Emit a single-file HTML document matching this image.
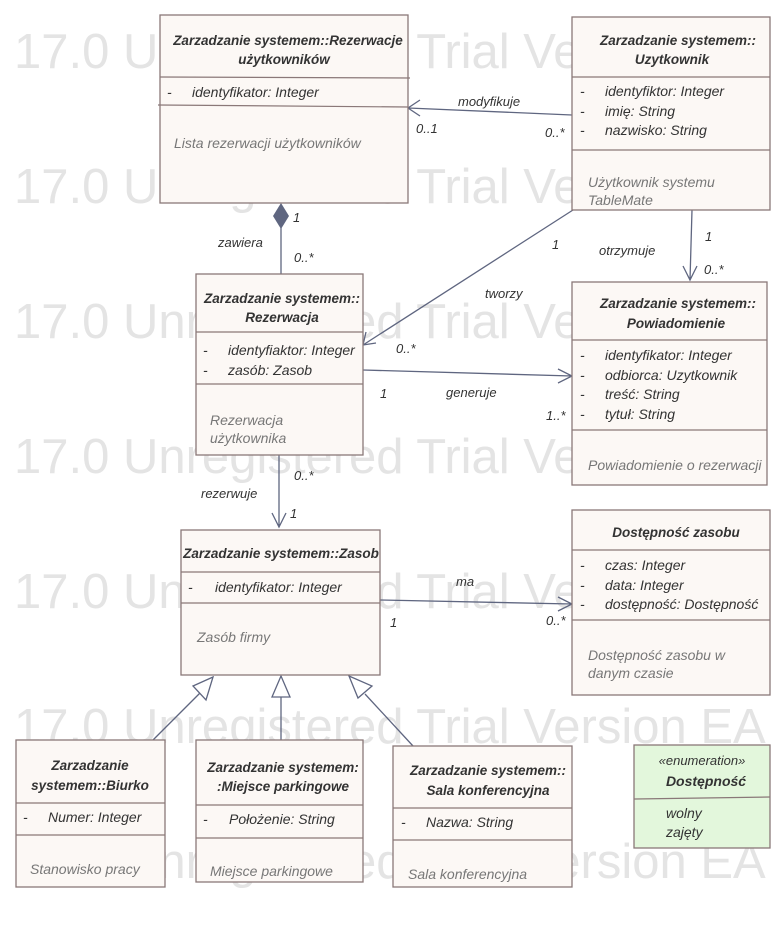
<!DOCTYPE html>
<html><head><meta charset="utf-8"><style>
html,body{margin:0;padding:0;background:#fff;width:783px;height:930px;overflow:hidden}
svg{display:block}
text{font-family:"Liberation Sans","DejaVu Sans",sans-serif;font-style:italic}
text.wm{font-size:49px;fill:#e4e4e4;font-style:normal}
.h{font-weight:bold;font-size:13.5px;fill:#333}
.a{font-size:14px;fill:#333}
.n{font-size:14px;fill:#777}
.l{font-size:13px;fill:#333}
.b{fill:#fcf8f5;stroke:#8a7878;stroke-width:1.3}
.s{stroke:#8a7878;stroke-width:1.2}
.c{stroke:#5f6680;stroke-width:1.3;fill:none}
</style></head><body>
<svg width="783" height="930" viewBox="0 0 783 930">
<text class="wm" x="14" y="68">17.0 Unregistered Trial Version EA</text>
<text class="wm" x="14" y="203">17.0 Unregistered Trial Version EA</text>
<text class="wm" x="14" y="338">17.0 Unregistered Trial Version EA</text>
<text class="wm" x="14" y="473">17.0 Unregistered Trial Version EA</text>
<text class="wm" x="14" y="608">17.0 Unregistered Trial Version EA</text>
<text class="wm" x="14" y="743">17.0 Unregistered Trial Version EA</text>
<text class="wm" x="14" y="878">17.0 Unregistered Trial Version EA</text>

<!-- connectors -->
<path class="c" d="M572 115 L408 108 M420 100 L408 108 L420 116"/>
<text class="l" x="458" y="106">modyfikuje</text><text class="l" x="416" y="133">0..1</text><text class="l" x="545" y="137">0..*</text>
<path class="c" d="M281 275 L281 228"/><path d="M281 203 L289 216 L281 229 L273 216Z" fill="#5f6680"/>
<text class="l" x="218" y="247">zawiera</text><text class="l" x="293" y="222">1</text><text class="l" x="294" y="262">0..*</text>
<path class="c" d="M573 210 L363 345 M366 332 L363 345 L376 343"/>
<text class="l" x="552" y="249">1</text><text class="l" x="485" y="298">tworzy</text><text class="l" x="396" y="353">0..*</text>
<path class="c" d="M692 210 L690 280 M683 266 L690 280 L697 266"/>
<text class="l" x="599" y="255">otrzymuje</text><text class="l" x="705" y="241">1</text><text class="l" x="704" y="274">0..*</text>
<path class="c" d="M363 370 L572 376 M558 369 L572 376 L558 383"/>
<text class="l" x="380" y="398">1</text><text class="l" x="446" y="397">generuje</text><text class="l" x="546" y="420">1..*</text>
<path class="c" d="M279 455 L279 527 M272 513 L279 527 L286 513"/>
<text class="l" x="201" y="498">rezerwuje</text><text class="l" x="294" y="480">0..*</text><text class="l" x="290" y="518">1</text>
<path class="c" d="M380 600 L572 604 M558 597 L572 604 L558 611"/>
<text class="l" x="456" y="586">ma</text><text class="l" x="390" y="627">1</text><text class="l" x="546" y="625">0..*</text>
<path class="c" d="M152 741 L200 693"/><path d="M213 677 L193 686 L206 700Z" fill="#fff" stroke="#5f6680" stroke-width="1.3"/>
<path class="c" d="M281 741 L281 697"/><path d="M281 676 L272 697 L290 697Z" fill="#fff" stroke="#5f6680" stroke-width="1.3"/>
<path class="c" d="M413 746 L365 694"/><path d="M349 676 L358 698 L372 686Z" fill="#fff" stroke="#5f6680" stroke-width="1.3"/>

<!-- 1 Rezerwacje -->
<rect class="b" x="160" y="15" width="248" height="188"/>
<line class="s" x1="160" y1="77" x2="410" y2="78"/><line class="s" x1="158" y1="105" x2="408" y2="107"/>
<text class="h" x="288" y="45" text-anchor="middle">Zarzadzanie systemem::Rezerwacje</text>
<text class="h" x="284" y="64" text-anchor="middle">użytkowników</text>
<text class="a" x="167" y="97">-</text><text class="a" x="192" y="97">identyfikator: Integer</text>
<text class="n" x="174" y="148">Lista rezerwacji użytkowników</text>

<!-- 2 Uzytkownik -->
<rect class="b" x="572" y="17" width="198" height="193"/>
<line class="s" x1="572" y1="77" x2="770" y2="77"/><line class="s" x1="572" y1="150" x2="770" y2="150"/>
<text class="h" x="678" y="45" text-anchor="middle">Zarzadzanie systemem::</text>
<text class="h" x="672" y="64" text-anchor="middle">Uzytkownik</text>
<text class="a" x="580" y="96">-</text><text class="a" x="605" y="96">identyfiktor: Integer</text>
<text class="a" x="580" y="116">-</text><text class="a" x="605" y="116">imię: String</text>
<text class="a" x="580" y="135">-</text><text class="a" x="605" y="135">nazwisko: String</text>
<text class="n" x="588" y="187">Użytkownik systemu</text><text class="n" x="588" y="205">TableMate</text>

<!-- 3 Rezerwacja -->
<rect class="b" x="196" y="274" width="167" height="181"/>
<line class="s" x1="196" y1="332" x2="363" y2="332"/><line class="s" x1="196" y1="384" x2="363" y2="384"/>
<text class="h" x="282" y="303" text-anchor="middle">Zarzadzanie systemem::</text>
<text class="h" x="282" y="322" text-anchor="middle">Rezerwacja</text>
<text class="a" x="203" y="355">-</text><text class="a" x="228" y="355">identyfiaktor: Integer</text>
<text class="a" x="203" y="375">-</text><text class="a" x="228" y="375">zasób: Zasob</text>
<text class="n" x="210" y="425">Rezerwacja</text><text class="n" x="210" y="443">użytkownika</text>

<!-- 4 Powiadomienie -->
<rect class="b" x="572" y="282" width="195" height="203"/>
<line class="s" x1="572" y1="340" x2="767" y2="340"/><line class="s" x1="572" y1="430" x2="767" y2="430"/>
<text class="h" x="678" y="308" text-anchor="middle">Zarzadzanie systemem::</text>
<text class="h" x="676" y="328" text-anchor="middle">Powiadomienie</text>
<text class="a" x="580" y="360">-</text><text class="a" x="605" y="360">identyfikator: Integer</text>
<text class="a" x="580" y="380">-</text><text class="a" x="605" y="380">odbiorca: Uzytkownik</text>
<text class="a" x="580" y="399">-</text><text class="a" x="605" y="399">treść: String</text>
<text class="a" x="580" y="419">-</text><text class="a" x="605" y="419">tytuł: String</text>
<text class="n" x="588" y="470">Powiadomienie o rezerwacji</text>

<!-- 5 Zasob -->
<rect class="b" x="181" y="530" width="199" height="145"/>
<line class="s" x1="181" y1="572" x2="380" y2="572"/><line class="s" x1="181" y1="603" x2="380" y2="603"/>
<text class="h" x="281" y="558" text-anchor="middle">Zarzadzanie systemem::Zasob</text>
<text class="a" x="188" y="592">-</text><text class="a" x="215" y="592">identyfikator: Integer</text>
<text class="n" x="197" y="642">Zasób firmy</text>

<!-- 6 Dostepnosc zasobu -->
<rect class="b" x="572" y="510" width="198" height="185"/>
<line class="s" x1="572" y1="550" x2="770" y2="550"/><line class="s" x1="572" y1="620" x2="770" y2="620"/>
<text class="h" x="676" y="537" text-anchor="middle">Dostępność zasobu</text>
<text class="a" x="580" y="570">-</text><text class="a" x="605" y="570">czas: Integer</text>
<text class="a" x="580" y="590">-</text><text class="a" x="605" y="590">data: Integer</text>
<text class="a" x="580" y="609">-</text><text class="a" x="605" y="609">dostępność: Dostępność</text>
<text class="n" x="588" y="660">Dostępność zasobu w</text><text class="n" x="588" y="678">danym czasie</text>

<!-- 7 Biurko -->
<rect class="b" x="16" y="740" width="149" height="147"/>
<line class="s" x1="16" y1="803" x2="165" y2="803"/><line class="s" x1="16" y1="835" x2="165" y2="835"/>
<text class="h" x="90" y="770" text-anchor="middle">Zarzadzanie</text>
<text class="h" x="90" y="790" text-anchor="middle">systemem::Biurko</text>
<text class="a" x="23" y="822">-</text><text class="a" x="48" y="822">Numer: Integer</text>
<text class="n" x="30" y="874">Stanowisko pracy</text>

<!-- 8 Miejsce -->
<rect class="b" x="196" y="740" width="167" height="142"/>
<line class="s" x1="196" y1="805" x2="363" y2="805"/><line class="s" x1="196" y1="838" x2="363" y2="838"/>
<text class="h" x="283" y="772" text-anchor="middle">Zarzadzanie systemem:</text>
<text class="h" x="283" y="791" text-anchor="middle">:Miejsce parkingowe</text>
<text class="a" x="203" y="824">-</text><text class="a" x="229" y="824">Położenie: String</text>
<text class="n" x="210" y="876">Miejsce parkingowe</text>

<!-- 9 Sala -->
<rect class="b" x="393" y="746" width="179" height="141"/>
<line class="s" x1="393" y1="808" x2="572" y2="808"/><line class="s" x1="393" y1="840" x2="572" y2="840"/>
<text class="h" x="488" y="775" text-anchor="middle">Zarzadzanie systemem::</text>
<text class="h" x="488" y="795" text-anchor="middle">Sala konferencyjna</text>
<text class="a" x="401" y="827">-</text><text class="a" x="426" y="827">Nazwa: String</text>
<text class="n" x="408" y="879">Sala konferencyjna</text>

<!-- 10 enumeration -->
<rect x="634" y="745" width="136" height="103" fill="#e3f7dc" stroke="#8a7878" stroke-width="1.3"/>
<line class="s" x1="634" y1="799" x2="770" y2="797"/>
<text class="a" x="702" y="765" text-anchor="middle" style="font-size:13px">«enumeration»</text>
<text class="h" x="706" y="786" text-anchor="middle" style="font-size:14px">Dostępność</text>
<text class="a" x="666" y="818">wolny</text><text class="a" x="666" y="837">zajęty</text>
</svg>
</body></html>
